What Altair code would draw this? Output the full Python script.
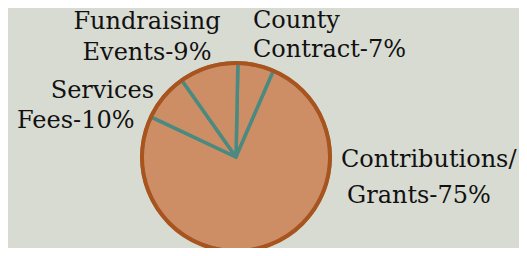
import math
import altair as alt
import pandas as pd

# Slice data (clockwise from 12 o'clock), shares
categories = ["County Contract", "Contributions/Grants", "Services Fees", "Fundraising Events"]
shares = [6.2, 75.5, 8.2, 10.1]

# Label lines
label_text = ["Fundraising", "Events-9%", "County", "Contract-7%",
              "Services", "Fees-10%", "Contributions/", "Grants-75%"]
label_x = [139, 139, 245, 245, 146, 9, 333, 339]
label_y = [21, 52, 20, 49, 90, 120, 159, 195]
label_align = ["center", "center", "left", "left", "right", "left", "left", "left"]

BG = "#d8dbd2"
FILL = "#cd8e66"
RIM = "#ab531d"
TEAL = "#4b8a80"
CX, CY, R = 228, 149, 94
START = 0.02

pie_df = pd.DataFrame({"category": categories, "share": shares, "idx": range(len(shares))})
lab_df = pd.DataFrame({"text": label_text, "x": label_x, "y": label_y, "align": label_align})

slices = alt.Chart(pie_df).mark_arc(
    radius=R, fill=FILL, stroke=TEAL, strokeWidth=3.5, strokeJoin="round"
).encode(
    theta=alt.Theta("share:Q", stack=True,
                    scale=alt.Scale(range=[START, START + 2 * math.pi])),
    order=alt.Order("idx:Q"),
    x=alt.value(CX), y=alt.value(CY),
)

rim = alt.Chart(pie_df.head(1)).mark_arc(
    radius=R, theta=0, theta2=2 * math.pi, fillOpacity=0, stroke=RIM, strokeWidth=4
).encode(x=alt.value(CX), y=alt.value(CY))

def text_layer(al):
    return alt.Chart(lab_df[lab_df["align"] == al]).mark_text(
        align=al, baseline="alphabetic", font="DejaVu Serif",
        fontSize=24, color="#111111"
    ).encode(
        x=alt.X("x:Q", scale=None, axis=None),
        y=alt.Y("y:Q", scale=None, axis=None),
        text="text:N",
    )

chart = alt.layer(
    slices, rim, text_layer("left"), text_layer("center"), text_layer("right")
).properties(
    width=511, height=240, background=BG, padding=0,
    autosize=alt.AutoSizeParams(type="none"),
).configure_view(stroke=None)

chart.save("out.html", embed_options={"renderer": "svg", "actions": False})
